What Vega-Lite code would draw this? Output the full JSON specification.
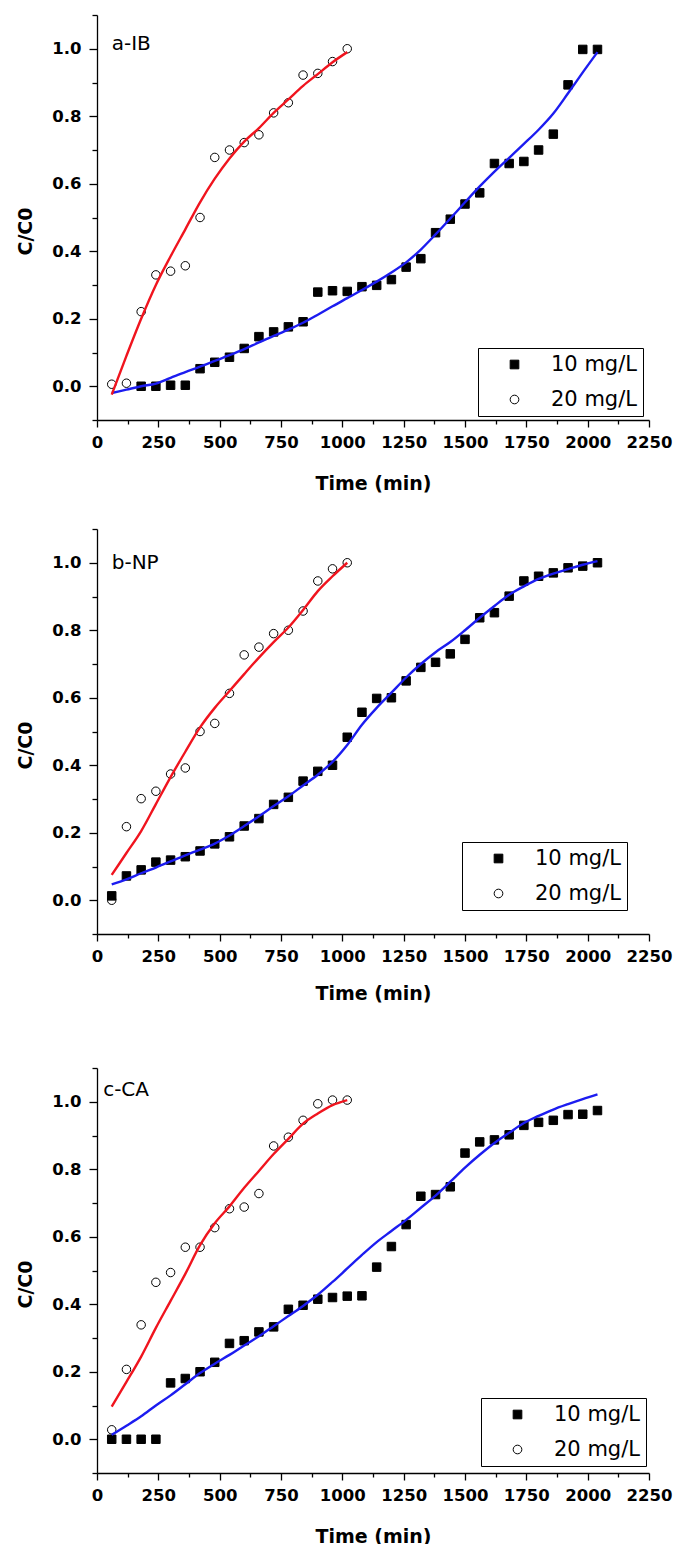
{
  "$schema": "https://vega.github.io/schema/vega-lite/v6.json",
  "background": "white",
  "padding": {"left": 16, "top": 7, "right": 5, "bottom": 0},
  "config": {
    "view": {"stroke": null},
    "axis": {"grid": false, "domainColor": "#000", "tickColor": "#000", "domainWidth": 1.3, "tickWidth": 1.3, "labelColor": "#000", "titleColor": "#000", "labelFont": "DejaVu Sans", "labelFontWeight": "bold", "labelFontSize": 16.5, "titleFont": "DejaVu Sans", "titleFontWeight": "bold", "titleFontSize": 19, "labelFlush": false, "labelOverlap": false},
    "legend": {"title": null, "strokeColor": "#000", "fillColor": "#fff", "padding": 6, "rowPadding": 13, "symbolSize": 75, "symbolOffset": 20, "labelOffset": 26, "labelFont": "DejaVu Sans", "labelFontSize": 21, "labelColor": "#000", "symbolStrokeWidth": 1, "labelExpr": "datum.label + '  '"}
  },
  "datasets": {
    "obsA": [
      {"t":180,"c":0.0,"series":"10 mg/L"},{"t":240,"c":0.0,"series":"10 mg/L"},{"t":300,"c":0.003,"series":"10 mg/L"},{"t":360,"c":0.003,"series":"10 mg/L"},{"t":420,"c":0.052,"series":"10 mg/L"},{"t":480,"c":0.071,"series":"10 mg/L"},{"t":540,"c":0.086,"series":"10 mg/L"},{"t":600,"c":0.112,"series":"10 mg/L"},{"t":660,"c":0.147,"series":"10 mg/L"},{"t":720,"c":0.161,"series":"10 mg/L"},{"t":780,"c":0.176,"series":"10 mg/L"},{"t":840,"c":0.191,"series":"10 mg/L"},{"t":900,"c":0.279,"series":"10 mg/L"},{"t":960,"c":0.283,"series":"10 mg/L"},{"t":1020,"c":0.281,"series":"10 mg/L"},{"t":1080,"c":0.295,"series":"10 mg/L"},{"t":1140,"c":0.299,"series":"10 mg/L"},{"t":1200,"c":0.316,"series":"10 mg/L"},{"t":1260,"c":0.353,"series":"10 mg/L"},{"t":1320,"c":0.378,"series":"10 mg/L"},{"t":1380,"c":0.455,"series":"10 mg/L"},{"t":1440,"c":0.495,"series":"10 mg/L"},{"t":1500,"c":0.54,"series":"10 mg/L"},{"t":1560,"c":0.573,"series":"10 mg/L"},{"t":1620,"c":0.66,"series":"10 mg/L"},{"t":1680,"c":0.66,"series":"10 mg/L"},{"t":1740,"c":0.666,"series":"10 mg/L"},{"t":1800,"c":0.7,"series":"10 mg/L"},{"t":1860,"c":0.747,"series":"10 mg/L"},{"t":1920,"c":0.893,"series":"10 mg/L"},{"t":1980,"c":0.998,"series":"10 mg/L"},{"t":2040,"c":0.998,"series":"10 mg/L"},
      {"t":60,"c":0.006,"series":"20 mg/L"},{"t":120,"c":0.009,"series":"20 mg/L"},{"t":180,"c":0.221,"series":"20 mg/L"},{"t":240,"c":0.33,"series":"20 mg/L"},{"t":300,"c":0.341,"series":"20 mg/L"},{"t":360,"c":0.357,"series":"20 mg/L"},{"t":420,"c":0.5,"series":"20 mg/L"},{"t":480,"c":0.678,"series":"20 mg/L"},{"t":540,"c":0.7,"series":"20 mg/L"},{"t":600,"c":0.722,"series":"20 mg/L"},{"t":660,"c":0.745,"series":"20 mg/L"},{"t":720,"c":0.81,"series":"20 mg/L"},{"t":780,"c":0.84,"series":"20 mg/L"},{"t":840,"c":0.922,"series":"20 mg/L"},{"t":900,"c":0.927,"series":"20 mg/L"},{"t":960,"c":0.962,"series":"20 mg/L"},{"t":1020,"c":1.0,"series":"20 mg/L"}
    ],
    "fitA": [
      {"t":60,"c":-0.02,"fit":"10"},{"t":120,"c":-0.01,"fit":"10"},{"t":180,"c":0.0,"fit":"10"},{"t":240,"c":0.008,"fit":"10"},{"t":300,"c":0.025,"fit":"10"},{"t":360,"c":0.042,"fit":"10"},{"t":420,"c":0.058,"fit":"10"},{"t":480,"c":0.075,"fit":"10"},{"t":540,"c":0.092,"fit":"10"},{"t":600,"c":0.11,"fit":"10"},{"t":660,"c":0.13,"fit":"10"},{"t":720,"c":0.149,"fit":"10"},{"t":780,"c":0.168,"fit":"10"},{"t":840,"c":0.188,"fit":"10"},{"t":900,"c":0.212,"fit":"10"},{"t":960,"c":0.237,"fit":"10"},{"t":1020,"c":0.261,"fit":"10"},{"t":1080,"c":0.285,"fit":"10"},{"t":1140,"c":0.31,"fit":"10"},{"t":1200,"c":0.337,"fit":"10"},{"t":1260,"c":0.367,"fit":"10"},{"t":1320,"c":0.405,"fit":"10"},{"t":1380,"c":0.45,"fit":"10"},{"t":1440,"c":0.497,"fit":"10"},{"t":1500,"c":0.545,"fit":"10"},{"t":1560,"c":0.592,"fit":"10"},{"t":1620,"c":0.636,"fit":"10"},{"t":1680,"c":0.677,"fit":"10"},{"t":1740,"c":0.718,"fit":"10"},{"t":1800,"c":0.76,"fit":"10"},{"t":1860,"c":0.808,"fit":"10"},{"t":1920,"c":0.868,"fit":"10"},{"t":1980,"c":0.93,"fit":"10"},{"t":2040,"c":0.99,"fit":"10"},
      {"t":60,"c":-0.025,"fit":"20"},{"t":120,"c":0.09,"fit":"20"},{"t":180,"c":0.2,"fit":"20"},{"t":240,"c":0.3,"fit":"20"},{"t":300,"c":0.385,"fit":"20"},{"t":360,"c":0.465,"fit":"20"},{"t":420,"c":0.545,"fit":"20"},{"t":480,"c":0.615,"fit":"20"},{"t":540,"c":0.675,"fit":"20"},{"t":600,"c":0.725,"fit":"20"},{"t":660,"c":0.765,"fit":"20"},{"t":720,"c":0.81,"fit":"20"},{"t":780,"c":0.85,"fit":"20"},{"t":840,"c":0.89,"fit":"20"},{"t":900,"c":0.925,"fit":"20"},{"t":960,"c":0.96,"fit":"20"},{"t":1020,"c":0.99,"fit":"20"}
    ],
    "obsB": [
      {"t":60,"c":0.013,"series":"10 mg/L"},{"t":120,"c":0.072,"series":"10 mg/L"},{"t":180,"c":0.09,"series":"10 mg/L"},{"t":240,"c":0.113,"series":"10 mg/L"},{"t":300,"c":0.119,"series":"10 mg/L"},{"t":360,"c":0.129,"series":"10 mg/L"},{"t":420,"c":0.146,"series":"10 mg/L"},{"t":480,"c":0.167,"series":"10 mg/L"},{"t":540,"c":0.188,"series":"10 mg/L"},{"t":600,"c":0.22,"series":"10 mg/L"},{"t":660,"c":0.242,"series":"10 mg/L"},{"t":720,"c":0.284,"series":"10 mg/L"},{"t":780,"c":0.305,"series":"10 mg/L"},{"t":840,"c":0.353,"series":"10 mg/L"},{"t":900,"c":0.382,"series":"10 mg/L"},{"t":960,"c":0.4,"series":"10 mg/L"},{"t":1020,"c":0.483,"series":"10 mg/L"},{"t":1080,"c":0.557,"series":"10 mg/L"},{"t":1140,"c":0.598,"series":"10 mg/L"},{"t":1200,"c":0.6,"series":"10 mg/L"},{"t":1260,"c":0.65,"series":"10 mg/L"},{"t":1320,"c":0.69,"series":"10 mg/L"},{"t":1380,"c":0.705,"series":"10 mg/L"},{"t":1440,"c":0.73,"series":"10 mg/L"},{"t":1500,"c":0.773,"series":"10 mg/L"},{"t":1560,"c":0.837,"series":"10 mg/L"},{"t":1620,"c":0.852,"series":"10 mg/L"},{"t":1680,"c":0.901,"series":"10 mg/L"},{"t":1740,"c":0.946,"series":"10 mg/L"},{"t":1800,"c":0.96,"series":"10 mg/L"},{"t":1860,"c":0.97,"series":"10 mg/L"},{"t":1920,"c":0.985,"series":"10 mg/L"},{"t":1980,"c":0.99,"series":"10 mg/L"},{"t":2040,"c":1.0,"series":"10 mg/L"},
      {"t":60,"c":0.0,"series":"20 mg/L"},{"t":120,"c":0.218,"series":"20 mg/L"},{"t":180,"c":0.301,"series":"20 mg/L"},{"t":240,"c":0.323,"series":"20 mg/L"},{"t":300,"c":0.374,"series":"20 mg/L"},{"t":360,"c":0.392,"series":"20 mg/L"},{"t":420,"c":0.5,"series":"20 mg/L"},{"t":480,"c":0.524,"series":"20 mg/L"},{"t":540,"c":0.613,"series":"20 mg/L"},{"t":600,"c":0.727,"series":"20 mg/L"},{"t":660,"c":0.75,"series":"20 mg/L"},{"t":720,"c":0.79,"series":"20 mg/L"},{"t":780,"c":0.8,"series":"20 mg/L"},{"t":840,"c":0.857,"series":"20 mg/L"},{"t":900,"c":0.946,"series":"20 mg/L"},{"t":960,"c":0.982,"series":"20 mg/L"},{"t":1020,"c":1.0,"series":"20 mg/L"}
    ],
    "fitB": [
      {"t":60,"c":0.047,"fit":"10"},{"t":120,"c":0.062,"fit":"10"},{"t":180,"c":0.08,"fit":"10"},{"t":240,"c":0.097,"fit":"10"},{"t":300,"c":0.115,"fit":"10"},{"t":360,"c":0.133,"fit":"10"},{"t":420,"c":0.15,"fit":"10"},{"t":480,"c":0.168,"fit":"10"},{"t":540,"c":0.192,"fit":"10"},{"t":600,"c":0.22,"fit":"10"},{"t":660,"c":0.249,"fit":"10"},{"t":720,"c":0.279,"fit":"10"},{"t":780,"c":0.308,"fit":"10"},{"t":840,"c":0.34,"fit":"10"},{"t":900,"c":0.372,"fit":"10"},{"t":960,"c":0.41,"fit":"10"},{"t":1020,"c":0.46,"fit":"10"},{"t":1080,"c":0.52,"fit":"10"},{"t":1140,"c":0.57,"fit":"10"},{"t":1200,"c":0.615,"fit":"10"},{"t":1260,"c":0.66,"fit":"10"},{"t":1320,"c":0.7,"fit":"10"},{"t":1380,"c":0.735,"fit":"10"},{"t":1440,"c":0.765,"fit":"10"},{"t":1500,"c":0.8,"fit":"10"},{"t":1560,"c":0.837,"fit":"10"},{"t":1620,"c":0.872,"fit":"10"},{"t":1680,"c":0.905,"fit":"10"},{"t":1740,"c":0.93,"fit":"10"},{"t":1800,"c":0.952,"fit":"10"},{"t":1860,"c":0.968,"fit":"10"},{"t":1920,"c":0.981,"fit":"10"},{"t":1980,"c":0.994,"fit":"10"},{"t":2040,"c":1.005,"fit":"10"},
      {"t":60,"c":0.075,"fit":"20"},{"t":120,"c":0.14,"fit":"20"},{"t":180,"c":0.205,"fit":"20"},{"t":240,"c":0.285,"fit":"20"},{"t":300,"c":0.365,"fit":"20"},{"t":360,"c":0.44,"fit":"20"},{"t":420,"c":0.512,"fit":"20"},{"t":480,"c":0.57,"fit":"20"},{"t":540,"c":0.62,"fit":"20"},{"t":600,"c":0.67,"fit":"20"},{"t":660,"c":0.719,"fit":"20"},{"t":720,"c":0.765,"fit":"20"},{"t":780,"c":0.808,"fit":"20"},{"t":840,"c":0.86,"fit":"20"},{"t":900,"c":0.916,"fit":"20"},{"t":960,"c":0.96,"fit":"20"},{"t":1020,"c":1.0,"fit":"20"}
    ],
    "obsC": [
      {"t":60,"c":0.0,"series":"10 mg/L"},{"t":120,"c":0.0,"series":"10 mg/L"},{"t":180,"c":0.0,"series":"10 mg/L"},{"t":240,"c":0.0,"series":"10 mg/L"},{"t":300,"c":0.167,"series":"10 mg/L"},{"t":360,"c":0.18,"series":"10 mg/L"},{"t":420,"c":0.2,"series":"10 mg/L"},{"t":480,"c":0.228,"series":"10 mg/L"},{"t":540,"c":0.284,"series":"10 mg/L"},{"t":600,"c":0.292,"series":"10 mg/L"},{"t":660,"c":0.318,"series":"10 mg/L"},{"t":720,"c":0.333,"series":"10 mg/L"},{"t":780,"c":0.385,"series":"10 mg/L"},{"t":840,"c":0.397,"series":"10 mg/L"},{"t":900,"c":0.415,"series":"10 mg/L"},{"t":960,"c":0.42,"series":"10 mg/L"},{"t":1020,"c":0.424,"series":"10 mg/L"},{"t":1080,"c":0.425,"series":"10 mg/L"},{"t":1140,"c":0.51,"series":"10 mg/L"},{"t":1200,"c":0.571,"series":"10 mg/L"},{"t":1260,"c":0.636,"series":"10 mg/L"},{"t":1320,"c":0.72,"series":"10 mg/L"},{"t":1380,"c":0.725,"series":"10 mg/L"},{"t":1440,"c":0.748,"series":"10 mg/L"},{"t":1500,"c":0.848,"series":"10 mg/L"},{"t":1560,"c":0.881,"series":"10 mg/L"},{"t":1620,"c":0.887,"series":"10 mg/L"},{"t":1680,"c":0.902,"series":"10 mg/L"},{"t":1740,"c":0.93,"series":"10 mg/L"},{"t":1800,"c":0.939,"series":"10 mg/L"},{"t":1860,"c":0.945,"series":"10 mg/L"},{"t":1920,"c":0.962,"series":"10 mg/L"},{"t":1980,"c":0.963,"series":"10 mg/L"},{"t":2040,"c":0.974,"series":"10 mg/L"},
      {"t":60,"c":0.028,"series":"20 mg/L"},{"t":120,"c":0.207,"series":"20 mg/L"},{"t":180,"c":0.339,"series":"20 mg/L"},{"t":240,"c":0.465,"series":"20 mg/L"},{"t":300,"c":0.494,"series":"20 mg/L"},{"t":360,"c":0.569,"series":"20 mg/L"},{"t":420,"c":0.569,"series":"20 mg/L"},{"t":480,"c":0.627,"series":"20 mg/L"},{"t":540,"c":0.683,"series":"20 mg/L"},{"t":600,"c":0.688,"series":"20 mg/L"},{"t":660,"c":0.728,"series":"20 mg/L"},{"t":720,"c":0.869,"series":"20 mg/L"},{"t":780,"c":0.895,"series":"20 mg/L"},{"t":840,"c":0.945,"series":"20 mg/L"},{"t":900,"c":0.994,"series":"20 mg/L"},{"t":960,"c":1.005,"series":"20 mg/L"},{"t":1020,"c":1.005,"series":"20 mg/L"}
    ],
    "fitC": [
      {"t":60,"c":0.013,"fit":"10"},{"t":120,"c":0.04,"fit":"10"},{"t":180,"c":0.068,"fit":"10"},{"t":240,"c":0.1,"fit":"10"},{"t":300,"c":0.13,"fit":"10"},{"t":360,"c":0.163,"fit":"10"},{"t":420,"c":0.196,"fit":"10"},{"t":480,"c":0.224,"fit":"10"},{"t":540,"c":0.25,"fit":"10"},{"t":600,"c":0.278,"fit":"10"},{"t":660,"c":0.305,"fit":"10"},{"t":720,"c":0.335,"fit":"10"},{"t":780,"c":0.365,"fit":"10"},{"t":840,"c":0.395,"fit":"10"},{"t":900,"c":0.428,"fit":"10"},{"t":960,"c":0.466,"fit":"10"},{"t":1020,"c":0.506,"fit":"10"},{"t":1080,"c":0.546,"fit":"10"},{"t":1140,"c":0.584,"fit":"10"},{"t":1200,"c":0.617,"fit":"10"},{"t":1260,"c":0.65,"fit":"10"},{"t":1320,"c":0.686,"fit":"10"},{"t":1380,"c":0.722,"fit":"10"},{"t":1440,"c":0.763,"fit":"10"},{"t":1500,"c":0.805,"fit":"10"},{"t":1560,"c":0.843,"fit":"10"},{"t":1620,"c":0.878,"fit":"10"},{"t":1680,"c":0.908,"fit":"10"},{"t":1740,"c":0.937,"fit":"10"},{"t":1800,"c":0.958,"fit":"10"},{"t":1860,"c":0.977,"fit":"10"},{"t":1920,"c":0.993,"fit":"10"},{"t":1980,"c":1.008,"fit":"10"},{"t":2040,"c":1.022,"fit":"10"},
      {"t":60,"c":0.097,"fit":"20"},{"t":120,"c":0.17,"fit":"20"},{"t":180,"c":0.245,"fit":"20"},{"t":240,"c":0.33,"fit":"20"},{"t":300,"c":0.41,"fit":"20"},{"t":360,"c":0.49,"fit":"20"},{"t":420,"c":0.575,"fit":"20"},{"t":480,"c":0.64,"fit":"20"},{"t":540,"c":0.69,"fit":"20"},{"t":600,"c":0.745,"fit":"20"},{"t":660,"c":0.795,"fit":"20"},{"t":720,"c":0.845,"fit":"20"},{"t":780,"c":0.89,"fit":"20"},{"t":840,"c":0.935,"fit":"20"},{"t":900,"c":0.965,"fit":"20"},{"t":960,"c":0.99,"fit":"20"},{"t":1020,"c":1.005,"fit":"20"}
    ]
  },
  "resolve": {
    "scale": {"x": "independent", "y": "independent", "shape": "independent", "fill": "independent", "stroke": "independent", "color": "independent"},
    "axis": {"x": "independent", "y": "independent"},
    "legend": {"shape": "independent", "fill": "independent", "stroke": "independent"}
  },
  "spacing": 56,
  "vconcat": [
    {
      "spacing": 27,
      "resolve": {
        "scale": {"x": "independent", "y": "independent", "shape": "independent", "fill": "independent", "stroke": "independent", "color": "independent"},
        "axis": {"x": "independent", "y": "independent"},
        "legend": {"shape": "independent", "fill": "independent", "stroke": "independent"}
      },
      "vconcat": [
        {
          "width": 552, "height": 405,
          "encoding": {
            "x": {"field": "t", "type": "quantitative", "title": "Time (min)", "scale": {"domain": [0, 2250], "nice": false, "zero": false},
              "axis": {"values": [0,125,250,375,500,625,750,875,1000,1125,1250,1375,1500,1625,1750,1875,2000,2125,2250], "format": "d", "labelExpr": "datum.value % 250 === 0 ? datum.label : ''", "tickSize": {"condition": {"test": "datum.value % 250 === 0", "value": 7}, "value": 4}, "labelPadding": 7, "titlePadding": 24}},
            "y": {"field": "c", "type": "quantitative", "title": "C/C0", "scale": {"domain": [-0.1, 1.1], "nice": false, "zero": false},
              "axis": {"values": [-0.1,0,0.1,0.2,0.3,0.4,0.5,0.6,0.7,0.8,0.9,1,1.1], "labelExpr": "round(datum.value*10) % 2 === 0 ? format(datum.value, '.1f') : ''", "tickSize": {"condition": {"test": "round(datum.value*10) % 2 === 0", "value": 8}, "value": 5}, "labelPadding": 8, "titlePadding": 16, "titleY": 216}}
          },
          "layer": [
            {"data": {"name": "obsA"}, "mark": {"type": "point", "filled": true, "size": 72, "strokeWidth": 1, "opacity": 1},
             "encoding": {
               "shape": {"field": "series", "type": "nominal", "scale": {"domain": ["10 mg/L", "20 mg/L"], "range": ["square", "circle"]}, "legend": {"orient": "none", "legendX": 381, "legendY": 333}},
               "fill": {"field": "series", "type": "nominal", "scale": {"domain": ["10 mg/L", "20 mg/L"], "range": ["#000000", "transparent"]}, "legend": {"orient": "none", "legendX": 381, "legendY": 333}},
               "stroke": {"field": "series", "type": "nominal", "scale": {"domain": ["10 mg/L", "20 mg/L"], "range": ["#000000", "#000000"]}, "legend": {"orient": "none", "legendX": 381, "legendY": 333}}
             }},
            {"data": {"name": "fitA"}, "mark": {"type": "line", "strokeWidth": 2.4, "interpolate": "monotone"},
             "encoding": {"color": {"field": "fit", "type": "nominal", "scale": {"domain": ["10", "20"], "range": ["#1c1cf0", "#f0141e"]}, "legend": null}}},
            {"data": {"values": [{"t": 60, "c": 1.015, "label": "a-IB"}]}, "mark": {"type": "text", "align": "left", "baseline": "middle", "font": "DejaVu Sans", "fontSize": 20, "color": "#000"},
             "encoding": {"text": {"field": "label"}}}
          ]
        },
        {
          "width": 552, "height": 405,
          "encoding": {
            "x": {"field": "t", "type": "quantitative", "title": "Time (min)", "scale": {"domain": [0, 2250], "nice": false, "zero": false},
              "axis": {"values": [0,125,250,375,500,625,750,875,1000,1125,1250,1375,1500,1625,1750,1875,2000,2125,2250], "format": "d", "labelExpr": "datum.value % 250 === 0 ? datum.label : ''", "tickSize": {"condition": {"test": "datum.value % 250 === 0", "value": 7}, "value": 4}, "labelPadding": 7, "titlePadding": 20}},
            "y": {"field": "c", "type": "quantitative", "title": "C/C0", "scale": {"domain": [-0.1, 1.1], "nice": false, "zero": false},
              "axis": {"values": [-0.1,0,0.1,0.2,0.3,0.4,0.5,0.6,0.7,0.8,0.9,1,1.1], "labelExpr": "round(datum.value*10) % 2 === 0 ? format(datum.value, '.1f') : ''", "tickSize": {"condition": {"test": "round(datum.value*10) % 2 === 0", "value": 8}, "value": 5}, "labelPadding": 8, "titlePadding": 16, "titleY": 216}}
          },
          "layer": [
            {"data": {"name": "obsB"}, "mark": {"type": "point", "filled": true, "size": 72, "strokeWidth": 1, "opacity": 1},
             "encoding": {
               "shape": {"field": "series", "type": "nominal", "scale": {"domain": ["10 mg/L", "20 mg/L"], "range": ["square", "circle"]}, "legend": {"orient": "none", "legendX": 365, "legendY": 313}},
               "fill": {"field": "series", "type": "nominal", "scale": {"domain": ["10 mg/L", "20 mg/L"], "range": ["#000000", "transparent"]}, "legend": {"orient": "none", "legendX": 365, "legendY": 313}},
               "stroke": {"field": "series", "type": "nominal", "scale": {"domain": ["10 mg/L", "20 mg/L"], "range": ["#000000", "#000000"]}, "legend": {"orient": "none", "legendX": 365, "legendY": 313}}
             }},
            {"data": {"name": "fitB"}, "mark": {"type": "line", "strokeWidth": 2.4, "interpolate": "monotone"},
             "encoding": {"color": {"field": "fit", "type": "nominal", "scale": {"domain": ["10", "20"], "range": ["#1c1cf0", "#f0141e"]}, "legend": null}}},
            {"data": {"values": [{"t": 60, "c": 1.0, "label": "b-NP"}]}, "mark": {"type": "text", "align": "left", "baseline": "middle", "font": "DejaVu Sans", "fontSize": 20, "color": "#000"},
             "encoding": {"text": {"field": "label"}}}
          ]
        }
      ]
    },
    {
      "width": 552, "height": 405,
      "encoding": {
        "x": {"field": "t", "type": "quantitative", "title": "Time (min)", "scale": {"domain": [0, 2250], "nice": false, "zero": false},
          "axis": {"values": [0,125,250,375,500,625,750,875,1000,1125,1250,1375,1500,1625,1750,1875,2000,2125,2250], "format": "d", "labelExpr": "datum.value % 250 === 0 ? datum.label : ''", "tickSize": {"condition": {"test": "datum.value % 250 === 0", "value": 7}, "value": 4}, "labelPadding": 7, "titlePadding": 24}},
        "y": {"field": "c", "type": "quantitative", "title": "C/C0", "scale": {"domain": [-0.1, 1.1], "nice": false, "zero": false},
          "axis": {"values": [-0.1,0,0.1,0.2,0.3,0.4,0.5,0.6,0.7,0.8,0.9,1,1.1], "labelExpr": "round(datum.value*10) % 2 === 0 ? format(datum.value, '.1f') : ''", "tickSize": {"condition": {"test": "round(datum.value*10) % 2 === 0", "value": 8}, "value": 5}, "labelPadding": 8, "titlePadding": 16, "titleY": 216}}
      },
      "layer": [
        {"data": {"name": "obsC"}, "mark": {"type": "point", "filled": true, "size": 72, "strokeWidth": 1, "opacity": 1},
         "encoding": {
           "shape": {"field": "series", "type": "nominal", "scale": {"domain": ["10 mg/L", "20 mg/L"], "range": ["square", "circle"]}, "legend": {"orient": "none", "legendX": 384, "legendY": 330}},
           "fill": {"field": "series", "type": "nominal", "scale": {"domain": ["10 mg/L", "20 mg/L"], "range": ["#000000", "transparent"]}, "legend": {"orient": "none", "legendX": 384, "legendY": 330}},
           "stroke": {"field": "series", "type": "nominal", "scale": {"domain": ["10 mg/L", "20 mg/L"], "range": ["#000000", "#000000"]}, "legend": {"orient": "none", "legendX": 384, "legendY": 330}}
         }},
        {"data": {"name": "fitC"}, "mark": {"type": "line", "strokeWidth": 2.4, "interpolate": "monotone"},
         "encoding": {"color": {"field": "fit", "type": "nominal", "scale": {"domain": ["10", "20"], "range": ["#1c1cf0", "#f0141e"]}, "legend": null}}},
        {"data": {"values": [{"t": 25, "c": 1.035, "label": "c-CA"}]}, "mark": {"type": "text", "align": "left", "baseline": "middle", "font": "DejaVu Sans", "fontSize": 20, "color": "#000"},
         "encoding": {"text": {"field": "label"}}}
      ]
    }
  ]
}
